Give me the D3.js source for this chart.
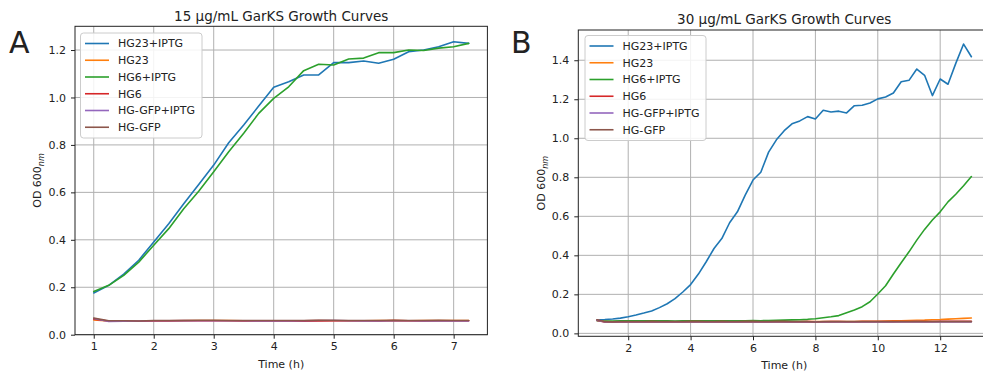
<!DOCTYPE html>
<html>
<head>
<meta charset="utf-8">
<script src="https://cdn.jsdelivr.net/npm/d3@7"></script>
<style>
  html, body { margin: 0; padding: 0; background: #fff; overflow: hidden; }
  svg { display: block; font-family: "DejaVu Sans", sans-serif; }
</style>
</head>
<body>
<svg id="chart" width="983" height="374"></svg>
<script>
// ---------------- DATA ----------------
const seriesNames = ["HG23+IPTG", "HG23", "HG6+IPTG", "HG6", "HG-GFP+IPTG", "HG-GFP"];
const seriesColors = ["#1f77b4", "#ff7f0e", "#2ca02c", "#d62728", "#9467bd", "#8c564b"];

// Panel A: 15 µg/mL
const timeA = [1, 1.25, 1.5, 1.75, 2, 2.25, 2.5, 2.75, 3, 3.25, 3.5, 3.75, 4, 4.25, 4.5, 4.75,
               5, 5.25, 5.5, 5.75, 6, 6.25, 6.5, 6.75, 7, 7.25];
const a_HG23_IPTG = [0.176, 0.208, 0.255, 0.314, 0.391, 0.468, 0.552, 0.633, 0.715, 0.809, 0.884, 0.964, 1.043,
                     1.066, 1.095, 1.095, 1.147, 1.147, 1.154, 1.144, 1.161, 1.193, 1.200, 1.214, 1.235, 1.228];
const a_HG23 = [0.062, 0.058, 0.059, 0.057, 0.059, 0.059, 0.060, 0.060, 0.060, 0.060, 0.059, 0.059, 0.059,
                0.058, 0.059, 0.060, 0.059, 0.059, 0.059, 0.060, 0.060, 0.059, 0.060, 0.060, 0.060, 0.060];
const a_HG6_IPTG = [0.182, 0.208, 0.250, 0.306, 0.377, 0.447, 0.531, 0.605, 0.687, 0.771, 0.849, 0.933, 0.996,
                    1.045, 1.113, 1.140, 1.137, 1.162, 1.166, 1.189, 1.189, 1.200, 1.198, 1.208, 1.214, 1.228];
const a_HG6 = [0.065, 0.058, 0.058, 0.057, 0.058, 0.058, 0.059, 0.059, 0.059, 0.059, 0.058, 0.058, 0.058,
               0.058, 0.057, 0.058, 0.059, 0.059, 0.059, 0.058, 0.060, 0.059, 0.058, 0.059, 0.059, 0.059];
const a_GFP_IPTG = [0.068, 0.056, 0.057, 0.058, 0.059, 0.059, 0.060, 0.059, 0.059, 0.059, 0.059, 0.058, 0.058,
                    0.058, 0.059, 0.060, 0.060, 0.059, 0.058, 0.058, 0.059, 0.059, 0.058, 0.059, 0.058, 0.058];
const a_GFP = [0.070, 0.059, 0.059, 0.058, 0.060, 0.060, 0.060, 0.061, 0.061, 0.060, 0.060, 0.060, 0.060,
               0.060, 0.060, 0.061, 0.061, 0.060, 0.060, 0.060, 0.061, 0.060, 0.060, 0.061, 0.060, 0.060];

// Panel B: 30 µg/mL
const timeB = [1, 1.25, 1.5, 1.75, 2, 2.25, 2.5, 2.75, 3, 3.25, 3.5, 3.75, 4, 4.25, 4.5, 4.75,
               5, 5.25, 5.5, 5.75, 6, 6.25, 6.5, 6.75, 7, 7.25, 7.5, 7.75, 8, 8.25, 8.5, 8.75,
               9, 9.25, 9.5, 9.75, 10, 10.25, 10.5, 10.75, 11, 11.25, 11.5, 11.75, 12, 12.25, 12.5, 12.75, 13];
const b_HG23_IPTG = [0.070, 0.071, 0.074, 0.078, 0.085, 0.094, 0.104, 0.115, 0.132, 0.152, 0.178, 0.212, 0.250,
                     0.304, 0.367, 0.435, 0.486, 0.567, 0.623, 0.709, 0.786, 0.826, 0.929, 0.992, 1.039, 1.074,
                     1.089, 1.111, 1.099, 1.144, 1.135, 1.139, 1.130, 1.167, 1.169, 1.181, 1.202, 1.212, 1.232,
                     1.290, 1.297, 1.355, 1.323, 1.219, 1.304, 1.277, 1.384, 1.483, 1.418];
const b_HG23 = [0.068, 0.060, 0.059, 0.060, 0.060, 0.060, 0.060, 0.061, 0.060, 0.060, 0.059, 0.060, 0.060,
                0.060, 0.060, 0.061, 0.060, 0.060, 0.060, 0.060, 0.060, 0.060, 0.060, 0.061, 0.060, 0.060,
                0.060, 0.061, 0.061, 0.061, 0.060, 0.061, 0.061, 0.061, 0.062, 0.062, 0.062, 0.063, 0.064,
                0.065, 0.066, 0.067, 0.068, 0.070, 0.071, 0.073, 0.075, 0.077, 0.079];
const b_HG6_IPTG = [0.065, 0.063, 0.063, 0.064, 0.064, 0.064, 0.064, 0.064, 0.064, 0.064, 0.063, 0.064, 0.064,
                    0.065, 0.065, 0.064, 0.064, 0.065, 0.065, 0.065, 0.066, 0.065, 0.066, 0.067, 0.068, 0.069,
                    0.070, 0.072, 0.075, 0.080, 0.085, 0.091, 0.106, 0.120, 0.137, 0.162, 0.202, 0.244, 0.304,
                    0.362, 0.418, 0.478, 0.533, 0.581, 0.623, 0.674, 0.713, 0.757, 0.804];
const b_HG6 = [0.066, 0.059, 0.058, 0.059, 0.059, 0.059, 0.059, 0.060, 0.059, 0.059, 0.059, 0.059, 0.060,
               0.060, 0.059, 0.059, 0.060, 0.059, 0.059, 0.060, 0.060, 0.059, 0.059, 0.060, 0.060, 0.059,
               0.059, 0.060, 0.059, 0.059, 0.060, 0.060, 0.059, 0.059, 0.060, 0.060, 0.060, 0.060, 0.060,
               0.061, 0.061, 0.061, 0.061, 0.061, 0.062, 0.062, 0.062, 0.062, 0.062];
const b_GFP_IPTG = [0.068, 0.058, 0.058, 0.059, 0.059, 0.059, 0.058, 0.059, 0.059, 0.059, 0.058, 0.059, 0.059,
                    0.059, 0.058, 0.059, 0.059, 0.058, 0.059, 0.059, 0.058, 0.059, 0.059, 0.059, 0.059, 0.058,
                    0.059, 0.059, 0.059, 0.058, 0.059, 0.059, 0.059, 0.058, 0.059, 0.059, 0.059, 0.059, 0.059,
                    0.059, 0.059, 0.060, 0.059, 0.059, 0.059, 0.059, 0.059, 0.059, 0.059];
const b_GFP = [0.070, 0.060, 0.059, 0.060, 0.060, 0.060, 0.060, 0.060, 0.060, 0.060, 0.060, 0.060, 0.060,
               0.060, 0.060, 0.060, 0.060, 0.060, 0.060, 0.060, 0.060, 0.060, 0.060, 0.060, 0.060, 0.060,
               0.060, 0.060, 0.058, 0.060, 0.060, 0.060, 0.060, 0.060, 0.060, 0.060, 0.060, 0.060, 0.060,
               0.060, 0.060, 0.060, 0.060, 0.060, 0.060, 0.060, 0.060, 0.060, 0.060];

const xTicksA = [1, 2, 3, 4, 5, 6, 7];
const yTicksA = [0, 0.2, 0.4, 0.6, 0.8, 1.0, 1.2];
const xTicksB = [2, 4, 6, 8, 10, 12];
const yTicksB = [0, 0.2, 0.4, 0.6, 0.8, 1.0, 1.2, 1.4];

// ---------------- DRAW ----------------
const svg = d3.select("#chart");

function panel(cfg) {
  const x = d3.scaleLinear().domain(cfg.xDomain).range([cfg.left, cfg.right]);
  const y = d3.scaleLinear().domain(cfg.yDomain).range([cfg.bottom, cfg.top]);
  const g = svg.append("g");

  // grid
  g.append("g").selectAll("line.gx").data(cfg.xTicks).join("line")
    .attr("x1", d => x(d)).attr("x2", d => x(d))
    .attr("y1", cfg.top).attr("y2", cfg.bottom)
    .attr("stroke", "#b0b0b0").attr("stroke-width", 1);
  g.append("g").selectAll("line.gy").data(cfg.yTicks).join("line")
    .attr("x1", cfg.left).attr("x2", cfg.right)
    .attr("y1", d => y(d)).attr("y2", d => y(d))
    .attr("stroke", "#b0b0b0").attr("stroke-width", 1);

  // lines
  const line = d3.line().x(d => x(d[0])).y(d => y(d[1]));
  cfg.series.forEach((vals, i) => {
    g.append("path")
      .datum(cfg.time.map((t, k) => [t, vals[k]]))
      .attr("d", line)
      .attr("fill", "none")
      .attr("stroke", seriesColors[i])
      .attr("stroke-width", 1.6)
      .attr("stroke-linejoin", "round")
      .attr("stroke-linecap", "round");
  });

  // spines
  g.append("rect")
    .attr("x", cfg.left).attr("y", cfg.top)
    .attr("width", cfg.right - cfg.left).attr("height", cfg.bottom - cfg.top)
    .attr("fill", "none").attr("stroke", "#222").attr("stroke-width", 1);

  // axes
  const xAxis = d3.axisBottom(x).tickValues(cfg.xTicks).tickFormat(d3.format("d"))
    .tickSize(4).tickPadding(4);
  const yAxis = d3.axisLeft(y).tickValues(cfg.yTicks).tickFormat(d3.format(".1f"))
    .tickSize(4).tickPadding(5);
  const gx = g.append("g").attr("transform", `translate(0,${cfg.bottom})`).call(xAxis);
  const gy = g.append("g").attr("transform", `translate(${cfg.left},0)`).call(yAxis);
  [gx, gy].forEach(a => {
    a.select(".domain").remove();
    a.selectAll(".tick line").attr("stroke", "#222");
    a.selectAll(".tick text").attr("fill", "#222").style("font-size", "11px")
      .style("font-family", "DejaVu Sans");
  });

  // title
  g.append("text")
    .attr("x", (cfg.left + cfg.right) / 2).attr("y", cfg.titleY)
    .attr("text-anchor", "middle").attr("fill", "#222")
    .style("font-size", "13.5px").text(cfg.title);

  // x label
  g.append("text")
    .attr("x", (cfg.left + cfg.right) / 2).attr("y", cfg.xLabelY)
    .attr("text-anchor", "middle").attr("fill", "#222")
    .style("font-size", "11px").text("Time (h)");

  // y label
  const yl = g.append("text")
    .attr("transform", `translate(${cfg.yLabelX},${(cfg.top + cfg.bottom) / 2}) rotate(-90)`)
    .attr("text-anchor", "middle").attr("fill", "#222")
    .style("font-size", "11px");
  yl.append("tspan").text("OD 600");
  yl.append("tspan").attr("dy", 3).style("font-size", "8px").style("font-style", "italic").text("nm");

  // panel letter
  g.append("text")
    .attr("x", cfg.letterX).attr("y", cfg.letterY)
    .attr("fill", "#222").style("font-size", "30px").text(cfg.letter);

  // legend
  const lg = g.append("g").attr("transform", `translate(${cfg.legX},${cfg.legY})`);
  lg.append("rect").attr("x", 0).attr("y", 0).attr("width", cfg.legW).attr("height", 105)
    .attr("rx", 3).attr("fill", "#fff").attr("fill-opacity", 0.85)
    .attr("stroke", "#cccccc").attr("stroke-width", 1);
  seriesNames.forEach((name, i) => {
    const yy = 10.5 + i * 16.75;
    lg.append("line").attr("x1", 4.5).attr("x2", 28.5).attr("y1", yy).attr("y2", yy)
      .attr("stroke", seriesColors[i]).attr("stroke-width", 1.6);
    lg.append("text").attr("x", 37.5).attr("y", yy).attr("dy", "0.35em")
      .attr("fill", "#222").style("font-size", "11px").text(name);
  });
}

panel({
  time: timeA,
  series: [a_HG23_IPTG, a_HG23, a_HG6_IPTG, a_HG6, a_GFP_IPTG, a_GFP],
  xDomain: [0.6875, 7.5625], yDomain: [0, 1.3],
  left: 75, right: 487.4, top: 26.3, bottom: 334.7,
  xTicks: xTicksA, yTicks: yTicksA,
  title: "15 µg/mL GarKS Growth Curves", titleY: 20.5,
  xLabelY: 367.5, yLabelX: 41,
  letter: "A", letterX: 9, letterY: 53,
  legX: 80.5, legY: 33, legW: 121.5
});

panel({
  time: timeB,
  series: [b_HG23_IPTG, b_HG23, b_HG6_IPTG, b_HG6, b_GFP_IPTG, b_GFP],
  xDomain: [0.4, 13.6], yDomain: [-0.015, 1.555],
  left: 578.3, right: 990.1, top: 30, bottom: 336.3,
  xTicks: xTicksB, yTicks: yTicksB,
  title: "30 µg/mL GarKS Growth Curves", titleY: 23.5,
  xLabelY: 369, yLabelX: 544.5,
  letter: "B", letterX: 511, letterY: 53,
  legX: 585, legY: 35.5, legW: 121
});
</script>
</body>
</html>
